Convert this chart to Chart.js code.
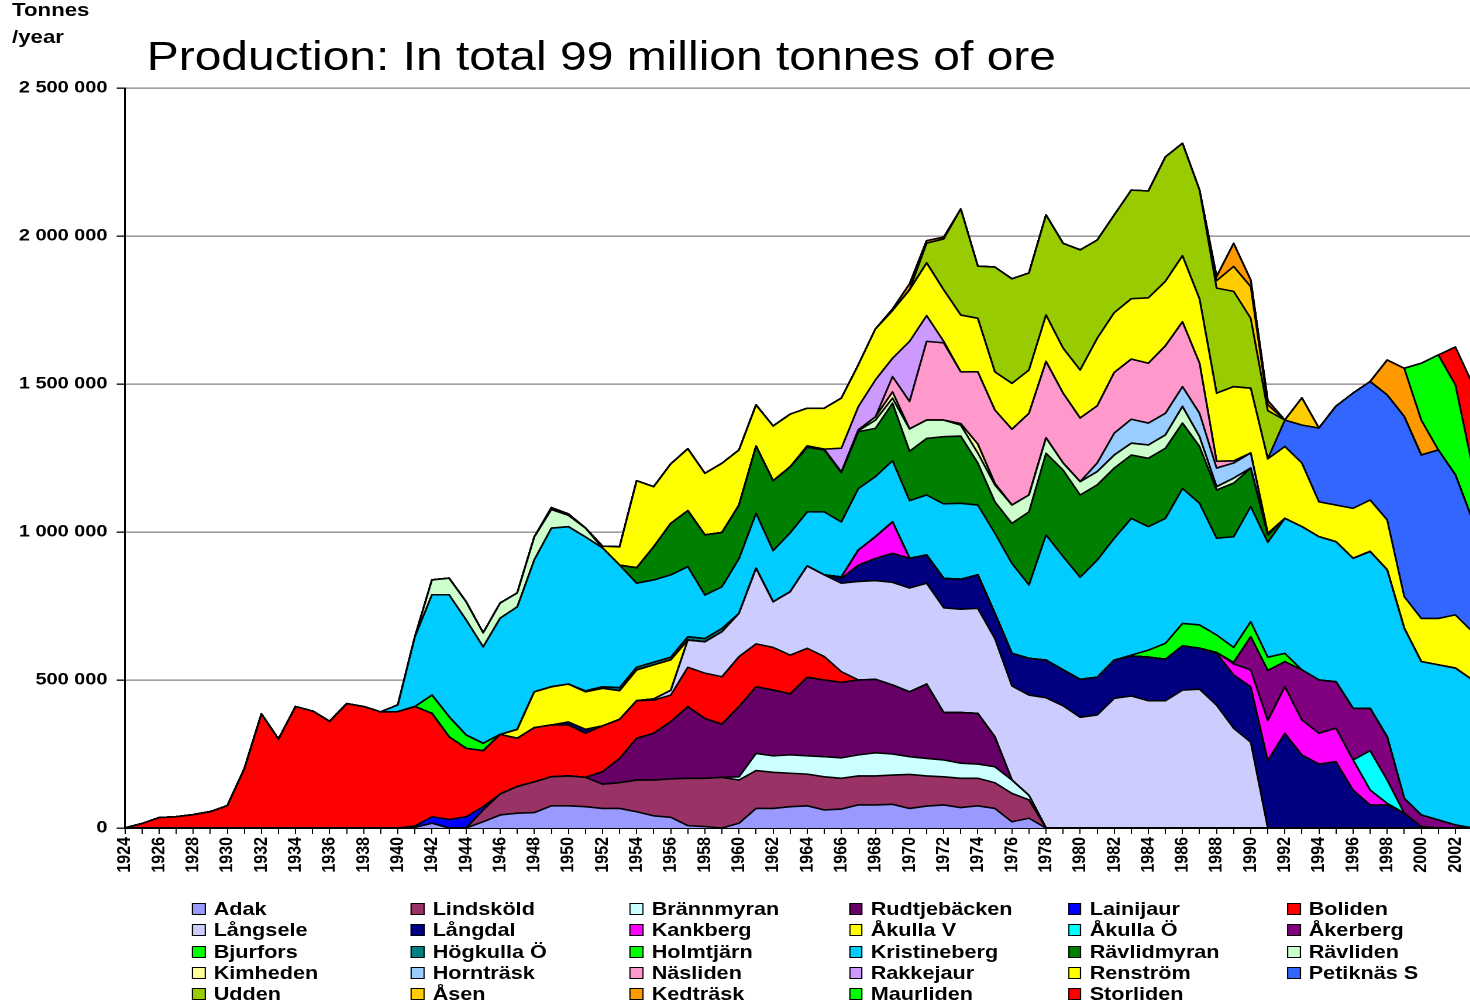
<!DOCTYPE html>
<html><head><meta charset="utf-8">
<script src="https://cdn.jsdelivr.net/npm/chart.js@4.4.0/dist/chart.umd.min.js"></script>
<style>
html,body{margin:0;padding:0;background:#fff;overflow:hidden;width:1470px;height:1003px;}
#page{position:absolute;left:0;top:0;width:1262px;height:1003px;transform:scaleX(1.17);transform-origin:0 0;font-family:"Liberation Sans",Arial,sans-serif;color:#000;}
#unit{position:absolute;left:10.3px;top:-2.6px;font-weight:bold;font-size:19px;line-height:26.5px;}
#title{position:absolute;left:125.4px;top:36px;font-size:41px;line-height:41px;white-space:nowrap;}
#c{position:absolute;left:0;top:0;width:1262px;height:880px;}
#legend{position:absolute;left:164.1px;top:898.4px;display:grid;grid-template-columns:repeat(6,187.2px);grid-auto-rows:21.25px;}
.item{display:flex;align-items:center;font-weight:bold;font-size:18.5px;white-space:nowrap;}
.box{width:11.5px;height:12px;border:1px solid #000;box-sizing:border-box;margin-right:7px;flex:none;}
</style></head>
<body>
<div id="page">
<div id="unit">Tonnes<br>/year</div>
<div id="title">Production: In total 99 million tonnes of ore</div>
<canvas id="c" width="1262" height="880"></canvas>
<div id="legend"></div>
</div>
<script>
const years = [1924,1925,1926,1927,1928,1929,1930,1931,1932,1933,
1934,1935,1936,1937,1938,1939,1940,1941,1942,1943,
1944,1945,1946,1947,1948,1949,1950,1951,1952,1953,
1954,1955,1956,1957,1958,1959,1960,1961,1962,1963,
1964,1965,1966,1967,1968,1969,1970,1971,1972,1973,
1974,1975,1976,1977,1978,1979,1980,1981,1982,1983,
1984,1985,1986,1987,1988,1989,1990,1991,1992,1993,
1994,1995,1996,1997,1998,1999,2000,2001,2002,2003];

// values in thousand tonnes per year, 1924..2003
const adak = [0,0,0,0,0,0,0,0,0,0, 0,0,0,0,0,0,0,2,16,0, 0,21,44,50,52,75,75,72,66,66, 55,41,36,8,5,0,16,66,66,72, 75,61,64,78,78,80,66,74,78,69, 75,66,21,33,0,0,0,0,0,0, 0,0,0,0,0,0,0,0,0,0, 0,0,0,0,0,0,0,0,0,0];
const lindskold = [0,0,0,0,0,0,0,0,0,0, 0,0,0,0,0,0,0,0,0,0, 0,40,71,90,104,98,101,99,82,87, 107,121,130,160,163,171,146,128,122,113, 107,112,104,98,98,99,115,102,95,99, 93,87,96,62,0,0,0,0,0,0, 0,0,0,0,0,0,0,0,0,0, 0,0,0,0,0,0,0,0,0,0];
const brannmyran = [0,0,0,0,0,0,0,0,0,0, 0,0,0,0,0,0,0,0,0,0, 0,0,0,0,0,0,0,0,0,0, 0,0,0,0,0,0,11,58,56,62, 62,68,69,71,78,71,60,59,57,51, 48,54,45,15,0,0,0,0,0,0, 0,0,0,0,0,0,0,0,0,0, 0,0,0,0,0,0,0,0,0,0];
const rudtjebacken = [0,0,0,0,0,0,0,0,0,0, 0,0,0,0,0,0,0,0,0,0, 0,0,0,0,0,0,0,0,42,82, 141,158,193,242,202,180,237,225,222,206, 265,259,255,253,248,233,219,251,160,171, 171,101,0,0,0,0,0,0,0,0, 0,0,0,0,0,0,0,0,0,0, 0,0,0,0,0,0,0,0,0,0];
const lainijaur = [0,0,0,0,0,0,0,0,0,0, 0,0,0,0,0,0,0,5,22,29, 38,11,0,0,0,0,0,0,0,0, 0,0,0,0,0,0,0,0,0,0, 0,0,0,0,0,0,0,0,0,0, 0,0,0,0,0,0,0,0,0,0, 0,0,0,0,0,0,0,0,0,0, 0,0,0,0,0,0,0,0,0,0];
const boliden = [0,15,35,38,45,55,75,200,385,300, 410,395,360,420,410,392,393,403,349,279, 231,189,201,163,183,175,172,149,155,132, 127,112,90,133,153,160,169,145,144,131, 98,79,36,0,0,0,0,0,0,0, 0,0,0,0,0,0,0,0,0,0, 0,0,0,0,0,0,0,0,0,0, 0,0,0,0,0,0,0,0,0,0];
const langsele = [0,0,0,0,0,0,0,0,0,0, 0,0,0,0,0,0,0,0,0,0, 0,0,0,0,0,0,0,0,0,0, 0,4,16,92,106,152,146,255,154,214, 278,276,299,333,334,347,351,341,354,349, 355,332,318,339,440,413,374,382,438,446, 430,430,466,469,415,337,290,0,0,0, 0,0,0,0,0,0,0,0,0,0];
const langdal = [0,0,0,0,0,0,0,0,0,0, 0,0,0,0,0,0,0,0,0,0, 0,0,0,0,0,0,10,13,0,0, 0,0,0,0,0,0,0,0,0,0, 0,0,16,55,75,98,100,95,99,101, 113,85,110,124,127,121,128,127,129,135, 147,140,149,138,175,180,187,228,320,247, 216,224,128,78,78,50,4,0,0,0];
const kankberg = [0,0,0,0,0,0,0,0,0,0, 0,0,0,0,0,0,0,0,0,0, 0,0,0,0,0,0,0,0,0,0, 0,0,0,0,0,0,0,0,0,0, 0,0,5,51,73,106,0,0,0,0, 0,0,0,0,0,0,0,0,0,0, 0,0,0,0,3,37,57,135,157,118, 104,113,102,50,5,0,0,0,0,0];
const akullaV = [0,0,0,0,0,0,0,0,0,0, 0,0,0,0,0,0,0,0,0,0, 0,0,0,30,121,129,128,127,127,97, 104,115,103,0,0,0,0,0,0,0, 0,0,0,0,0,0,0,0,0,0, 0,0,0,0,0,0,0,0,0,0, 0,0,0,0,0,0,0,0,0,0, 0,0,0,0,0,0,0,0,0,0];
const akullaO = [0,0,0,0,0,0,0,0,0,0, 0,0,0,0,0,0,0,0,0,0, 0,0,0,0,0,0,0,0,0,0, 0,0,0,0,0,0,0,0,0,0, 0,0,0,0,0,0,0,0,0,0, 0,0,0,0,0,0,0,0,0,0, 0,0,0,0,0,0,0,0,0,0, 0,0,0,133,79,0,0,0,0,0];
const akerberg = [0,0,0,0,0,0,0,0,0,0, 0,0,0,0,0,0,0,0,0,0, 0,0,0,0,0,0,0,0,0,0, 0,0,0,0,0,0,0,0,0,0, 0,0,0,0,0,0,0,0,0,0, 0,0,0,0,0,0,0,0,0,0, 0,0,0,0,0,5,112,169,85,169, 180,157,174,143,146,50,40,27,10,0];
const bjurfors = [0,0,0,0,0,0,0,0,0,0, 0,0,0,0,0,0,0,0,62,68, 45,25,0,0,0,0,0,0,0,0, 0,0,0,0,0,0,0,0,0,0, 0,0,0,0,0,0,0,0,0,0, 0,0,0,0,0,0,0,0,0,0, 0,0,0,0,0,0,0,0,0,0, 0,0,0,0,0,0,0,0,0,0];
const hogkulla = [0,0,0,0,0,0,0,0,0,0, 0,0,0,0,0,0,0,0,0,0, 0,0,0,0,0,0,0,3,5,10, 9,9,9,11,11,11,0,0,0,0, 0,0,0,0,0,0,0,0,0,0, 0,0,0,0,0,0,0,0,0,0, 0,0,0,0,0,0,0,0,0,0, 0,0,0,0,0,0,0,0,0,0];
const holmtjarn = [0,0,0,0,0,0,0,0,0,0, 0,0,0,0,0,0,0,0,0,0, 0,0,0,0,0,0,0,0,0,0, 0,0,0,0,0,0,0,0,0,0, 0,0,0,0,0,0,0,0,0,0, 0,0,0,0,0,0,0,0,0,3, 24,54,76,79,59,51,51,45,28,0, 0,0,0,0,0,0,0,0,0,0];
const kristineberg = [0,0,0,0,0,0,0,0,0,0, 0,0,0,0,0,0,23,236,339,412, 389,326,393,414,446,536,532,520,469,414, 284,278,278,237,147,141,185,186,173,199, 183,213,186,208,203,207,195,203,252,257, 236,271,304,248,423,383,345,396,412,462, 417,422,456,411,327,374,389,388,456,484, 484,473,507,530,564,575,518,524,530,500];
const ravlidmyran = [0,0,0,0,0,0,0,0,0,0, 0,0,0,0,0,0,0,0,0,0, 0,0,0,0,0,0,0,0,0,0, 52,112,174,189,203,183,181,227,236,223, 218,209,166,192,163,194,167,191,227,227, 142,106,135,247,276,292,278,254,237,214, 231,237,221,192,163,181,130,25,0,0, 0,0,0,0,0,0,0,0,0,0];
const ravliden = [0,0,0,0,0,0,0,0,0,0, 0,0,0,0,0,0,0,0,50,56, 61,47,51,47,77,63,38,30,0,0, 0,0,0,0,0,0,0,0,0,0, 0,0,0,3,28,17,75,62,56,37, 34,57,62,57,52,24,45,45,44,40, 45,45,56,33,11,17,0,0,0,0, 0,0,0,0,0,0,0,0,0,0];
const kimheden = [0,0,0,0,0,0,0,0,0,0, 0,0,0,0,0,0,0,0,0,0, 0,0,0,0,0,0,0,0,0,0, 0,0,0,0,0,0,0,0,0,0, 0,0,0,3,11,21,0,0,0,5, 30,5,0,0,0,0,0,0,0,0, 0,0,0,0,0,0,0,0,0,0, 0,0,0,0,0,0,0,0,0,0];
const horntrask = [0,0,0,0,0,0,0,0,0,0, 0,0,0,0,0,0,0,0,0,0, 0,0,0,0,0,0,0,0,0,0, 0,0,0,0,0,0,0,0,0,0, 0,0,0,0,0,0,0,0,0,0, 0,0,0,0,0,0,0,29,74,81, 74,73,67,79,63,51,51,5,0,0, 0,0,0,0,0,0,0,0,0,0];
const nasliden = [0,0,0,0,0,0,0,0,0,0, 0,0,0,0,0,0,0,0,0,0, 0,0,0,0,0,0,0,0,0,0, 0,0,0,0,0,0,0,0,0,0, 5,3,3,0,0,52,93,266,261,175, 244,248,256,276,258,236,215,193,205,203, 202,228,219,169,23,7,0,0,0,0, 0,0,0,0,0,0,0,0,0,0];
const rakkejaur = [0,0,0,0,0,0,0,0,0,0, 0,0,0,0,0,0,0,0,0,0, 0,0,0,0,0,0,0,0,0,0, 0,0,0,0,0,0,0,0,0,0, 0,0,80,79,125,62,203,87,5,0, 0,0,0,0,0,0,0,0,0,0, 0,0,0,0,0,0,0,0,0,0, 0,0,0,0,0,0,0,0,0,0];
const renstrom = [0,0,0,0,0,0,0,0,0,0, 0,0,0,0,0,0,0,0,0,0, 0,0,0,0,0,6,5,0,6,62, 294,203,201,209,208,234,186,139,185,178, 127,138,169,141,172,161,174,178,174,192, 181,129,155,146,157,152,162,228,202,204, 221,218,223,217,230,251,219,252,243,215, 118,124,169,174,169,107,146,157,180,163];
const petiknas = [0,0,0,0,0,0,0,0,0,0, 0,0,0,0,0,0,0,0,0,0, 0,0,0,0,0,0,0,0,0,0, 0,0,0,0,0,0,0,0,0,0, 0,0,0,0,0,0,0,0,0,0, 0,0,0,0,0,0,0,0,0,0, 0,0,0,0,0,0,0,0,89,128, 249,334,389,400,422,608,552,569,473,378];
const udden = [0,0,0,0,0,0,0,0,0,0, 0,0,0,0,0,0,0,0,0,0, 0,0,0,0,0,0,0,0,0,0, 0,0,0,0,0,0,0,0,0,0, 0,0,0,0,0,0,0,67,172,358, 176,354,353,328,338,354,406,332,330,367, 361,420,380,368,355,322,236,163,0,0, 0,0,0,0,0,0,0,0,0,0];
const asen = [0,0,0,0,0,0,0,0,0,0, 0,0,0,0,0,0,0,0,0,0, 0,0,0,0,0,0,0,0,0,0, 0,0,0,0,0,0,0,0,0,0, 0,0,0,0,0,0,0,0,0,0, 0,0,0,0,0,0,0,0,0,0, 0,0,0,0,25,84,107,20,0,92, 0,0,0,0,0,0,0,0,0,0];
const kedtrask = [0,0,0,0,0,0,0,0,0,0, 0,0,0,0,0,0,0,0,0,0, 0,0,0,0,0,0,0,0,0,0, 0,0,0,0,0,0,0,0,0,0, 0,0,0,0,0,5,20,8,6,0, 0,0,0,0,0,0,0,0,0,0, 0,0,0,0,14,78,22,14,0,0, 0,0,0,0,118,163,118,0,0,0];
const maurliden = [0,0,0,0,0,0,0,0,0,0, 0,0,0,0,0,0,0,0,0,0, 0,0,0,0,0,0,0,0,0,0, 0,0,0,0,0,0,0,0,0,0, 0,0,0,0,0,0,0,0,0,0, 0,0,0,0,0,0,0,0,0,0, 0,0,0,0,0,0,0,0,0,0, 0,0,0,0,0,0,192,321,304,180];
const storliden = [0,0,0,0,0,0,0,0,0,0, 0,0,0,0,0,0,0,0,0,0, 0,0,0,0,0,0,0,0,0,0, 0,0,0,0,0,0,0,0,0,0, 0,0,0,0,0,0,0,0,0,0, 0,0,0,0,0,0,0,0,0,0, 0,0,0,0,0,0,0,0,0,0, 0,0,0,0,0,0,0,0,128,280];

const mineNames = ['Adak','Lindsköld','Brännmyran','Rudtjebäcken','Lainijaur','Boliden',
'Långsele','Långdal','Kankberg','Åkulla V','Åkulla Ö','Åkerberg',
'Bjurfors','Högkulla Ö','Holmtjärn','Kristineberg','Rävlidmyran','Rävliden',
'Kimheden','Hornträsk','Näsliden','Rakkejaur','Renström','Petiknäs S',
'Udden','Åsen','Kedträsk','Maurliden','Storliden'];
const mineValues = [adak,lindskold,brannmyran,rudtjebacken,lainijaur,boliden,
langsele,langdal,kankberg,akullaV,akullaO,akerberg,
bjurfors,hogkulla,holmtjarn,kristineberg,ravlidmyran,ravliden,
kimheden,horntrask,nasliden,rakkejaur,renstrom,petiknas,
udden,asen,kedtrask,maurliden,storliden];
const mineColors = ['#9999FF','#993366','#CCFFFF','#660066','#0000FF','#FF0000',
'#CCCCFF','#000080','#FF00FF','#FFFF00','#00FFFF','#800080',
'#00FF00','#008080','#00FF00','#00CCFF','#008000','#CCFFCC',
'#FFFF99','#99CCFF','#FF99CC','#CC99FF','#FFFF00','#3366FF',
'#99CC00','#FFCC00','#FF9900','#00FF00','#FF0000'];
const yTickValues = [0,500000,1000000,1500000,2000000,2500000];
const KT = 1000;
const FONT = '"Liberation Sans", Arial, sans-serif';

function fmt(v){ return String(Math.round(v)).replace(/\B(?=(\d{3})+(?!\d))/g,' '); }

const datasets = mineNames.map((n,i)=>({
  label:n,
  data: mineValues[i].map(v=>v*KT),
  backgroundColor: mineColors[i],
  borderColor:'#000',
  borderWidth:1.6,
  pointRadius:0,
  pointHoverRadius:0,
  tension:0,
  fill: i===0 ? 'origin' : '-1'
}));

new Chart(document.getElementById('c'), {
  type:'line',
  data:{labels: years.map(String), datasets},
  options:{
    responsive:false, animation:false, devicePixelRatio:2,
    layout:{padding:{top:88,right:3.5,left:0,bottom:0}},
    plugins:{legend:{display:false},tooltip:{enabled:false},title:{display:false}},
    elements:{line:{borderJoinStyle:'round'}},
    scales:{
      x:{
        type:'category', offset:false,
        grid:{display:true, drawOnChartArea:false, drawTicks:true, tickLength:6, color:'#000', lineWidth:1},
        border:{display:true, color:'#000', width:1.5},
        ticks:{autoSkip:false, maxRotation:90, minRotation:90, padding:3, color:'#000',
          font:{family:FONT, size:16, weight:'bold'},
          callback:(v,i)=> (years[i]%2===0 ? String(years[i]) : '')},
        afterFit:(s)=>{ s.height = 52; s.paddingLeft = 0; s.paddingRight = 0; }
      },
      y:{
        stacked:true, min:0, max:2500000,
        afterBuildTicks:(s)=>{ s.ticks = yTickValues.map(v=>({value:v})); },
        ticks:{padding:8, color:'#000', font:{family:FONT, size:17, weight:'bold'}, callback:(v)=>fmt(v)},
        grid:{color:'#808080', lineWidth:1.3, drawTicks:true, tickLength:7, tickColor:'#000'},
        border:{display:true, color:'#000', width:1.5},
        afterFit:(s)=>{ s.width = 106.8; s.paddingTop = 0; s.paddingBottom = 0; }
      }
    }
  }
});

const leg = document.getElementById('legend');
mineNames.forEach((n,i)=>{
  const it = document.createElement('div'); it.className='item';
  const b = document.createElement('span'); b.className='box'; b.style.background = mineColors[i];
  const t = document.createElement('span'); t.textContent = n;
  it.appendChild(b); it.appendChild(t); leg.appendChild(it);
});
</script>
</body></html>
